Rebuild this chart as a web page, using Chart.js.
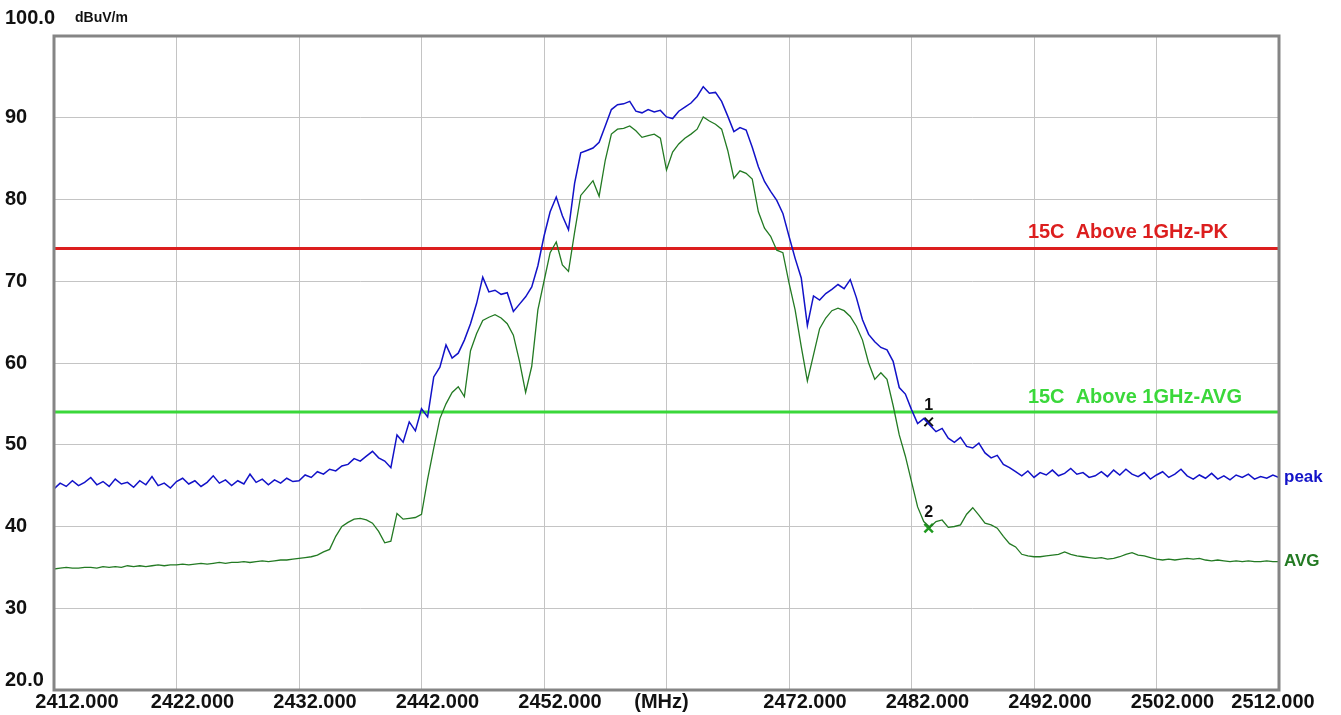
<!DOCTYPE html>
<html>
<head>
<meta charset="utf-8">
<script src="https://cdn.jsdelivr.net/npm/chart.js@4.4.1/dist/chart.umd.min.js"></script>
<style>
html, body { margin: 0; padding: 0; background: #fff; }
#wrap { width: 1341px; height: 715px; }
</style>
</head>
<body>
<div id="wrap"><canvas id="chart" width="1341" height="715"></canvas></div>
<script>
// sweep: 2412 -> 2512 MHz, one reading every 0.5 MHz
const startFreq = 2412;
const stepFreq = 0.5;

const peakValues = [
    44.6, 45.3, 44.9, 45.6, 45.0, 45.4, 46.0, 45.1, 45.5, 44.9,
    45.8, 45.2, 45.4, 44.8, 45.6, 45.1, 46.1, 45.0, 45.3, 44.7,
    45.5, 45.9, 45.2, 45.6, 44.9, 45.4, 46.2, 45.3, 45.7, 45.0,
    45.6, 45.2, 46.4, 45.4, 45.8, 45.1, 45.7, 45.3, 45.9, 45.5,
    45.6, 46.3, 46.0, 46.7, 46.4, 47.0, 46.8, 47.4, 47.6, 48.3,
    48.0, 48.6, 49.2, 48.4, 48.0, 47.2, 51.2, 50.3, 52.8, 51.7,
    54.4, 53.4, 58.3, 59.5, 62.2, 60.6, 61.2, 62.8, 64.8, 67.3,
    70.5, 68.7, 68.9, 68.4, 68.6, 66.3, 67.2, 68.1, 69.3, 71.9,
    75.5, 78.5, 80.3, 78.0, 76.3, 82.0, 85.7, 86.0, 86.3, 87.0,
    89.0, 91.0, 91.6, 91.7, 92.0, 90.8, 90.6, 91.0, 90.7, 90.9,
    90.1, 89.9, 90.8, 91.3, 91.8, 92.6, 93.8, 93.0, 93.1, 92.0,
    90.2, 88.3, 88.8, 88.5, 86.4, 84.0, 82.2, 81.0, 79.9, 78.3,
    75.5, 72.8, 70.4, 64.6, 68.2, 67.7, 68.5, 69.0, 69.6, 69.1,
    70.2, 68.0, 65.3, 63.5, 62.6, 61.9, 61.6, 60.2, 57.0, 56.2,
    54.3, 52.6, 53.2, 52.4, 51.6, 52.0, 50.8, 50.3, 50.9, 49.8,
    49.6, 50.2, 49.0, 48.4, 48.7, 47.6, 47.2, 46.7, 46.2, 46.8,
    46.0, 46.6, 46.3, 46.9, 46.2, 46.5, 47.1, 46.4, 46.6, 46.0,
    46.2, 46.7, 46.1, 46.9, 46.3, 47.0, 46.4, 46.1, 46.6, 45.8,
    46.3, 46.7, 46.0, 46.4, 47.0, 46.2, 45.8, 46.3, 45.9, 46.5,
    45.8, 46.2, 45.7, 46.3, 46.0, 46.4, 45.8, 46.1, 45.9, 46.3,
    46.0
];

const avgValues = [
    34.8, 34.9, 35.0, 34.9, 34.9, 35.0, 35.0, 34.9, 35.1, 35.0,
    35.1, 35.0, 35.2, 35.1, 35.2, 35.1, 35.2, 35.3, 35.2, 35.3,
    35.3, 35.4, 35.3, 35.4, 35.5, 35.4, 35.5, 35.6, 35.5, 35.6,
    35.6, 35.7, 35.6, 35.7, 35.8, 35.7, 35.8, 35.9, 35.9, 36.0,
    36.1, 36.2, 36.3, 36.5, 36.9, 37.2, 38.8, 40.0, 40.5, 40.9,
    41.0, 40.8, 40.4, 39.4, 38.0, 38.2, 41.6, 40.9, 41.0, 41.1,
    41.5, 45.8, 49.6, 53.2, 55.0, 56.4, 57.1, 55.9, 61.5, 63.6,
    65.2, 65.6, 65.9, 65.5, 64.8, 63.4, 60.2, 56.4, 59.6, 66.5,
    70.0, 73.5, 74.8, 72.0, 71.2, 76.0, 80.5, 81.4, 82.3, 80.4,
    84.8, 88.0, 88.6, 88.7, 89.0, 88.4, 87.6, 87.8, 88.0, 87.5,
    83.6, 85.8, 86.8, 87.5, 88.0, 88.6, 90.1, 89.6, 89.2, 88.6,
    86.0, 82.6, 83.5, 83.2, 82.5, 78.5, 76.5, 75.5, 73.8, 73.5,
    69.8, 66.5, 62.0, 57.8, 61.0, 64.2, 65.5, 66.4, 66.7, 66.4,
    65.7, 64.5, 62.8, 60.0, 58.0, 58.8, 58.0, 54.8, 51.2, 48.6,
    45.5, 42.4, 40.6, 39.9, 40.6, 40.8, 39.9, 40.0, 40.2, 41.5,
    42.3, 41.4, 40.4, 40.2, 39.8, 38.8, 37.9, 37.5, 36.6, 36.4,
    36.3, 36.3, 36.4, 36.5, 36.6, 36.9, 36.6, 36.4, 36.3, 36.2,
    36.1, 36.2, 36.0, 36.1, 36.3, 36.6, 36.8, 36.5, 36.4, 36.2,
    36.0, 35.9, 36.0, 35.9, 36.0, 36.1, 36.0, 36.1, 35.9, 35.8,
    35.9, 35.8, 35.7, 35.8, 35.7, 35.8, 35.7, 35.7, 35.8, 35.7,
    35.7
];

const freqs = peakValues.map((_, i) => startFreq + i * stepFreq);

const xTicks = [2412, 2422, 2432, 2442, 2452, 2462, 2472, 2482, 2492, 2502, 2512];
const yTicks = [20, 30, 40, 50, 60, 70, 80, 90, 100];

const limitPK = 74;
const limitAVG = 54;
const limitPKText = '15C  Above 1GHz-PK';
const limitAVGText = '15C  Above 1GHz-AVG';

const markerNames = ['1', '2'];
const markerFreqs = [2483.4, 2483.4];
const markerValues = [52.8, 39.8];

const BLUE = '#1212c8';
const DKGREEN = '#237a23';
const RED = '#dc1e1e';
const LTGREEN = '#3ad83a';
const FONT = '"Liberation Sans", Arial, sans-serif';

const toPoints = (vals) => vals.map((v, i) => ({ x: freqs[i], y: v }));

const framePlugin = {
    id: 'frame',
    afterDraw(chart) {
        const { ctx, chartArea: a } = chart;
        ctx.save();
        ctx.strokeStyle = '#858585';
        ctx.lineWidth = 3;
        ctx.strokeRect(a.left, a.top, a.right - a.left, a.bottom - a.top);
        ctx.restore();
    },
};

const textPlugin = {
    id: 'texts',
    afterDraw(chart) {
        const { ctx, chartArea: a } = chart;
        const x = chart.scales.x;
        const y = chart.scales.y;
        ctx.save();
        ctx.textBaseline = 'middle';

        // y tick labels
        ctx.fillStyle = '#111';
        ctx.font = 'bold 20px ' + FONT;
        ctx.textAlign = 'left';
        yTicks.forEach((v) => {
            let py = y.getPixelForValue(v);
            let txt = String(v);
            if (v === 100) { txt = '100.0'; py -= 18; }
            if (v === 20) { txt = '20.0'; py -= 10; }
            ctx.fillText(txt, 5, py);
        });
        ctx.font = 'bold 14px ' + FONT;
        ctx.fillText('dBuV/m', 75, y.getPixelForValue(100) - 18);

        // x tick labels (sit a little right of their grid line, like the analyser print)
        ctx.font = 'bold 20px ' + FONT;
        ctx.textAlign = 'center';
        const ly = a.bottom + 12;
        xTicks.forEach((v, i) => {
            const px = x.getPixelForValue(v);
            if (v === 2462) {
                ctx.fillText('(MHz)', px - 5, ly);
            } else if (i === 0) {
                ctx.fillText(v.toFixed(3), px + 23, ly);
            } else if (i === xTicks.length - 1) {
                ctx.fillText(v.toFixed(3), px - 6, ly);
            } else {
                ctx.fillText(v.toFixed(3), px + 16, ly);
            }
        });

        // limit line captions
        ctx.textAlign = 'left';
        ctx.font = 'bold 20px ' + FONT;
        ctx.fillStyle = RED;
        ctx.fillText(limitPKText, x.getPixelForValue(2491.5), y.getPixelForValue(limitPK) - 16);
        ctx.fillStyle = LTGREEN;
        ctx.fillText(limitAVGText, x.getPixelForValue(2491.5), y.getPixelForValue(limitAVG) - 15);

        // trace names at the right end
        ctx.font = 'bold 17px ' + FONT;
        ctx.fillStyle = BLUE;
        ctx.fillText('peak', a.right + 5, y.getPixelForValue(peakValues[peakValues.length - 1]));
        ctx.fillStyle = DKGREEN;
        ctx.fillText('AVG', a.right + 5, y.getPixelForValue(avgValues[avgValues.length - 1]));

        // marker numbers
        ctx.textAlign = 'center';
        ctx.fillStyle = '#111';
        ctx.font = 'bold 16px ' + FONT;
        markerNames.forEach((n, i) => {
            ctx.fillText(n, x.getPixelForValue(markerFreqs[i]), y.getPixelForValue(markerValues[i]) - 16);
        });
        ctx.restore();
    },
};

const ctx = document.getElementById('chart').getContext('2d');
new Chart(ctx, {
    type: 'line',
    data: {
        datasets: [
            { label: 'peak', data: toPoints(peakValues), borderColor: BLUE, borderWidth: 1.5 },
            { label: 'AVG', data: toPoints(avgValues), borderColor: DKGREEN, borderWidth: 1.3 },
            {
                label: 'PK limit',
                data: [{ x: xTicks[0], y: limitPK }, { x: xTicks[xTicks.length - 1], y: limitPK }],
                borderColor: RED,
                borderWidth: 3,
            },
            {
                label: 'AVG limit',
                data: [{ x: xTicks[0], y: limitAVG }, { x: xTicks[xTicks.length - 1], y: limitAVG }],
                borderColor: LTGREEN,
                borderWidth: 3,
            },
            {
                label: 'marker 1',
                data: [{ x: markerFreqs[0], y: markerValues[0] }],
                showLine: false,
                pointStyle: 'crossRot',
                pointRadius: 6,
                pointBorderWidth: 2,
                borderColor: '#111',
            },
            {
                label: 'marker 2',
                data: [{ x: markerFreqs[1], y: markerValues[1] }],
                showLine: false,
                pointStyle: 'crossRot',
                pointRadius: 6,
                pointBorderWidth: 2.5,
                borderColor: '#1f9a1f',
            },
        ],
    },
    options: {
        responsive: false,
        animation: false,
        layout: { padding: { left: 54, top: 36, right: 62, bottom: 25 } },
        elements: {
            point: { radius: 0 },
            line: { tension: 0, fill: false },
        },
        plugins: {
            legend: { display: false },
            tooltip: { enabled: false },
        },
        scales: {
            x: {
                type: 'linear',
                min: 2412,
                max: 2512,
                afterBuildTicks: (axis) => { axis.ticks = xTicks.map((v) => ({ value: v })); },
                ticks: { display: false },
                grid: { color: '#c4c4c4', lineWidth: 1, drawTicks: false },
                border: { display: false },
            },
            y: {
                min: 20,
                max: 100,
                afterBuildTicks: (axis) => { axis.ticks = yTicks.map((v) => ({ value: v })); },
                ticks: { display: false },
                grid: { color: '#c4c4c4', lineWidth: 1, drawTicks: false },
                border: { display: false },
            },
        },
    },
    plugins: [framePlugin, textPlugin],
});
</script>
</body>
</html>
